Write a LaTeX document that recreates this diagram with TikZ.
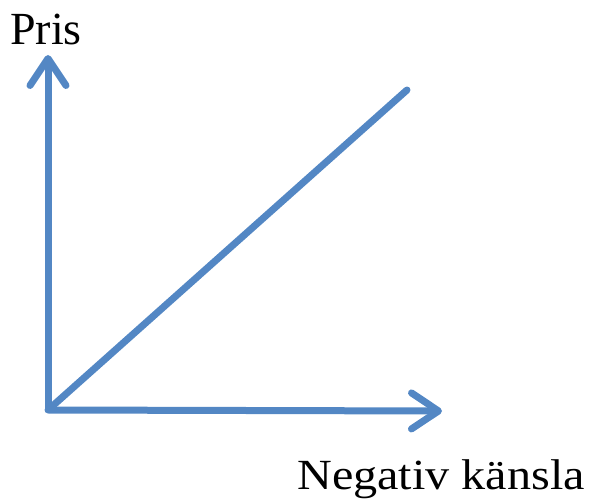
\documentclass[tikz,border=0pt]{standalone}
\usepackage{fontspec}
\setmainfont{Liberation Serif}
\usetikzlibrary{arrows.meta}
\definecolor{axisblue}{RGB}{83,135,196}

\begin{document}
\begin{tikzpicture}[x=1pt,y=1pt,
    axis/.style={axisblue, line width=7pt, -{Straight Barb[length=27pt,width=36pt,line cap=round,line join=round]}},
    lbl/.style={font=\fontsize{46}{46}\selectfont, inner sep=0pt}]
    \useasboundingbox (0,0) rectangle (590,501);

    % Axes
    \coordinate (O) at (48,91);
    \coordinate (ytip) at (48,446);
    \coordinate (xtip) at (442,90);
    \coordinate (dend) at (407,411);
    \draw[axis] (O) -- (ytip);
    \draw[axis] (O) -- (xtip);

    % Line
    \draw[axisblue, line width=7pt, line cap=round] (O) -- (dend);

    % Labels
    \node[lbl, anchor=base west] (pris) at (10,456) {Pris};
    \node[lbl, anchor=base east, xscale=1.12, font=\fontsize{43}{43}\selectfont] (kansla) at (585,11) {Negativ känsla};
\end{tikzpicture}
\end{document}
